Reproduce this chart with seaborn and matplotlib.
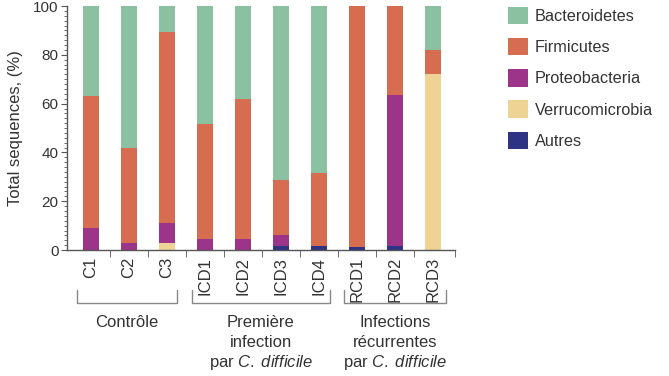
import matplotlib
matplotlib.use('Agg')
import matplotlib.pyplot as plt
from matplotlib.patches import Patch
from matplotlib.ticker import MultipleLocator, FixedLocator
import numpy as np
import seaborn as sns

samples = ['C1', 'C2', 'C3', 'ICD1', 'ICD2', 'ICD3', 'ICD4', 'RCD1', 'RCD2', 'RCD3']

# pourcentages (de bas en haut)
autres = [0, 0, 0, 0, 0, 1.5, 1.5, 1.2, 1.5, 0]
verrucomicrobia = [0, 0, 3, 0, 0, 0, 0, 0, 0, 72]
proteobacteria = [9, 3, 8, 4.5, 4.5, 4.8, 0, 0, 62, 0]
firmicutes = [54, 39, 78.5, 47, 57.5, 22.5, 30, 98.8, 36.5, 10]
bacteroidetes = [37, 58, 10.5, 48.5, 38, 71.2, 68.5, 0, 0, 18]

groups = [['Contrôle'],
          ['Première', 'infection', 'par $\\mathit{C.\\;difficile}$'],
          ['Infections', 'récurrentes', 'par $\\mathit{C.\\;difficile}$']]
group_spans = [(-0.37, 2.28), (2.66, 6.28), (6.66, 9.34)]

colors = {'Bacteroidetes': '#8bc1a0', 'Firmicutes': '#d66c50',
          'Proteobacteria': '#9c3489', 'Verrucomicrobia': '#efd394',
          'Autres': '#2e3383'}

sns.set_style('ticks')
plt.rcParams['font.family'] = ['Liberation Sans', 'DejaVu Sans']
plt.rcParams['mathtext.fontset'] = 'custom'
plt.rcParams['mathtext.rm'] = 'Liberation Sans'
plt.rcParams['mathtext.it'] = 'Liberation Sans:italic'

fig = plt.figure(figsize=(6.69, 3.76), dpi=100)
ax = fig.add_axes([0.100, 0.335, 0.580, 0.649])

layers = [('Autres', autres), ('Verrucomicrobia', verrucomicrobia),
          ('Proteobacteria', proteobacteria), ('Firmicutes', firmicutes),
          ('Bacteroidetes', bacteroidetes)]
cum = np.cumsum([np.array(v, dtype=float) for _, v in layers], axis=0)

# barres empilées : on dessine les cumuls du plus grand au plus petit
for i in range(len(layers) - 1, -1, -1):
    name = layers[i][0]
    sns.barplot(x=samples, y=cum[i], order=samples, color=colors[name],
                saturation=1, width=0.43, linewidth=0, ax=ax)

ax.set_xlim(-0.63, 9.58)
ax.set_ylim(0, 100)
sns.despine(ax=ax)
for s in ['left', 'bottom']:
    ax.spines[s].set_color('#555555')
    ax.spines[s].set_linewidth(1.0)

ax.yaxis.set_major_locator(MultipleLocator(20))
ax.yaxis.set_minor_locator(MultipleLocator(2))
ax.tick_params(axis='y', which='major', length=4, color='#555555',
               labelsize=11, labelcolor='#333333', pad=2)
ax.tick_params(axis='y', which='minor', length=2.5, color='#555555')

ax.set_xticks(range(len(samples)))
ax.set_xticklabels(samples, rotation=90)
ax.xaxis.set_minor_locator(FixedLocator([i + 0.5 for i in range(9)] + [9.58]))
ax.tick_params(axis='x', which='major', length=0, labelsize=12,
               labelcolor='#333333', pad=5)
ax.tick_params(axis='x', which='minor', length=5, color='#555555')
ax.set_xlabel('')
ax.set_ylabel('Total sequences, (%)', fontsize=12, color='#333333', labelpad=7)

# accolades des groupes sous l'axe
tr = ax.get_xaxis_transform()
for lines, (x0, x1) in zip(groups, group_spans):
    ax.plot([x0, x0, x1, x1], [-0.164, -0.217, -0.217, -0.164], transform=tr,
            color='#888888', lw=1.0, clip_on=False)
    for k, line in enumerate(lines):
        y = (250 - (327 + 20 * k)) / 244
        ax.text((x0 + x1) / 2, y, line, transform=tr, ha='center', va='baseline',
                fontsize=12, color='#333333')

names = ['Bacteroidetes', 'Firmicutes', 'Proteobacteria', 'Verrucomicrobia', 'Autres']
handles = [Patch(facecolor=colors[n], edgecolor='none') for n in names]
fig.legend(handles, names,
           loc='upper left', bbox_to_anchor=(508 / 669, 1 - 7 / 376), frameon=False,
           fontsize=11.7, handlelength=1.25, handleheight=1.25, handletextpad=0.4,
           labelspacing=0.86, borderpad=0, borderaxespad=0, labelcolor='#333333')

fig.savefig('out.png', dpi=100)
